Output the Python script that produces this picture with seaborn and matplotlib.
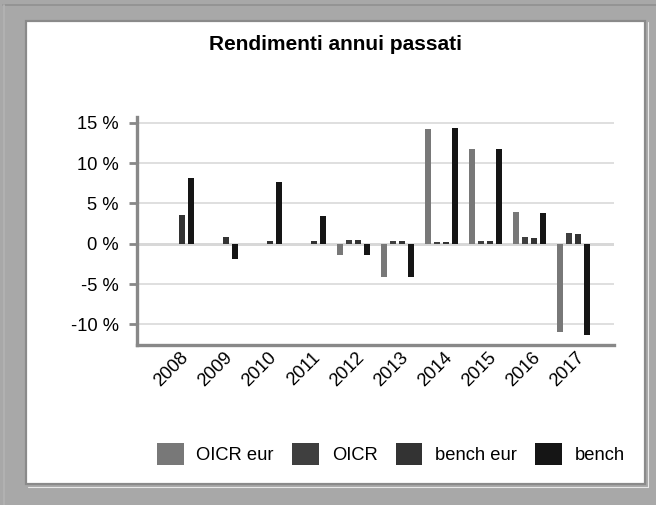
import numpy as np
import pandas as pd
import matplotlib
matplotlib.use('Agg')
import matplotlib.pyplot as plt
import matplotlib.patches as mpatches
from matplotlib.lines import Line2D
from matplotlib.ticker import FuncFormatter, MultipleLocator
from matplotlib.transforms import ScaledTranslation
import seaborn as sns

# data (percent)
years = ['2008', '2009', '2010', '2011', '2012', '2013', '2014', '2015', '2016', '2017']
series = ['OICR eur', 'OICR', 'bench eur', 'bench']
oicr_eur = [np.nan, np.nan, np.nan, np.nan, -1.4, -4.1, 14.2, 11.7, 3.9, -11.0]
oicr = [np.nan, np.nan, np.nan, np.nan, 0.5, 0.3, 0.2, 0.3, 0.8, 1.3]
bench_eur = [3.6, 0.8, 0.3, 0.3, 0.5, 0.3, 0.2, 0.3, 0.7, 1.2]
bench = [8.1, -1.9, 7.6, 3.4, -1.4, -4.1, 14.3, 11.7, 3.8, -11.3]
colors = ['#787878', '#3f3f3f', '#333333', '#151515']

df = pd.DataFrame({'OICR eur': oicr_eur, 'OICR': oicr,
                   'bench eur': bench_eur, 'bench': bench}, index=years)
long_df = df.reset_index().melt(id_vars='index', var_name='series', value_name='value')
long_df = long_df.rename(columns={'index': 'year'})

sns.set_style('white')
plt.rcParams['font.family'] = ['Liberation Sans', 'DejaVu Sans']
plt.rcParams['text.color'] = 'black'

W, H = 656, 505
fig = plt.figure(figsize=(W / 100, H / 100), dpi=100)
fig.patch.set_facecolor('#a8a8a8')

# white panel with grey border
panel = mpatches.Rectangle((26 / W, 1 - 484 / H), (645 - 26) / W, (484 - 21) / H,
                           transform=fig.transFigure, facecolor='white',
                           edgecolor='#8a8a8a', linewidth=1.6, zorder=-5)
fig.patches.append(panel)
fig.add_artist(Line2D([648 / W, 648 / W], [1 - 22 / H, 1 - 487 / H], transform=fig.transFigure,
                      color='#e8e8e8', lw=0.8, zorder=-4))
fig.add_artist(Line2D([28 / W, 648 / W], [1 - 487 / H, 1 - 487 / H], transform=fig.transFigure,
                      color='#e8e8e8', lw=0.8, zorder=-4))
fig.add_artist(Line2D([3 / W, 1], [1 - 5 / H, 1 - 5 / H], transform=fig.transFigure,
                      color='#909090', lw=1.2, zorder=-4))
fig.add_artist(Line2D([4 / W, 4 / W], [1 - 5 / H, 0], transform=fig.transFigure,
                      color='#b4b4b4', lw=1.2, zorder=-4))

ax = fig.add_axes([137 / W, 1 - 345 / H, (614 - 137) / W, (345 - 117) / H])
ax.set_zorder(2)
ax.set_facecolor('white')

sns.barplot(data=long_df, x='year', y='value', hue='series', hue_order=series,
            palette=colors, width=0.818, gap=0.333, errorbar=None,
            saturation=1, legend=False, linewidth=0, ax=ax)

ax.set_xlim(-0.92, 9.92)
ax.set_ylim(-12.55, 15.7)
ax.yaxis.set_major_locator(MultipleLocator(5))
ax.yaxis.set_major_formatter(FuncFormatter(lambda v, p: f'{v:.0f} %'))
ax.set_axisbelow(True)
ax.grid(axis='y', color='#d9d9d9', linewidth=1.2)
ax.axhline(0, color='#d4d4d4', linewidth=2, zorder=0.5)

for side in ['top', 'right']:
    ax.spines[side].set_visible(False)
for side in ['left', 'bottom']:
    ax.spines[side].set_color('#888888')
    ax.spines[side].set_linewidth(2.4)

ax.tick_params(axis='y', length=6, width=2, color='#888888', pad=7,
               labelsize=13.2, labelcolor='black', left=True)
ax.tick_params(axis='x', length=0, pad=3, labelsize=13.2, labelcolor='black')
ax.set_xlabel('')
ax.set_ylabel('')
for lab in ax.get_xticklabels():
    lab.set_rotation(45)
    lab.set_ha('right')
    lab.set_transform(lab.get_transform() + ScaledTranslation(14 / 100, 0, fig.dpi_scale_trans))

fig.text(335.5 / W, 1 - 45 / H, 'Rendimenti annui passati', ha='center', va='center',
         fontsize=15, fontweight='bold', color='black')

handles = [mpatches.Patch(facecolor=c, edgecolor='none') for c in colors]
fig.legend(handles, series, loc='center', bbox_to_anchor=(391 / W, 1 - 454 / H),
           ncol=4, frameon=False, handlelength=1.45, handleheight=1.45,
           handletextpad=0.7, columnspacing=1.0, fontsize=13.2)

fig.savefig('out.png', dpi=100, facecolor=fig.get_facecolor())
